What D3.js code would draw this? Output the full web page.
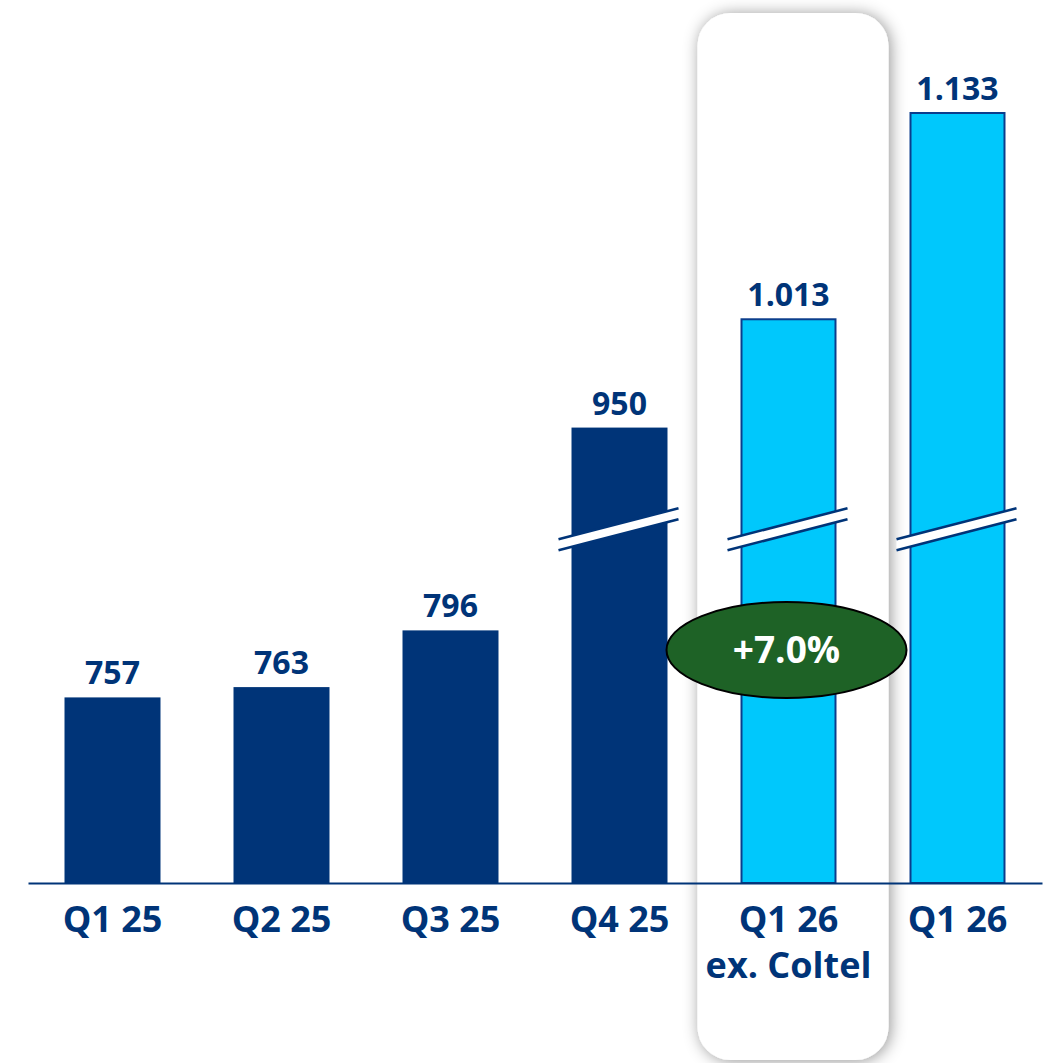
<!DOCTYPE html>
<html>
<head>
<meta charset="utf-8">
<script src="https://cdn.jsdelivr.net/npm/d3@7"></script>
<style>
  html, body { margin: 0; padding: 0; background: #ffffff; }
  svg { display: block; }
  text { font-family: "Open Sans", "DejaVu Sans", sans-serif; font-weight: 700; }
</style>
</head>
<body>
<svg id="chart" width="1057" height="1063"></svg>
<script>
// Quarterly values (thousands separator "." as in the source deck)
const categories = ["Q1 25", "Q2 25", "Q3 25", "Q4 25", "Q1 26\nex. Coltel", "Q1 26"];
const values = [757, 763, 796, 950, 1013, 1133];
const highlighted = [false, false, false, false, true, true];
const growthLabel = "+7.0%";

// Broken value axis: values between breakLow and breakHigh are cut out
const axisMin = 649;
const breakLow = 855;
const breakHigh = 891;
const axisMax = 1133;

const W = 1057, H = 1063;
const baseY = 883, breakY = 529, topY = 113;

const navy = "#003478";
const cyan = "#00c8fc";

const svg = d3.select("#chart");

const x = d3.scaleBand()
  .domain(categories)
  .range([28, 1042])
  .paddingInner(0.432)
  .paddingOuter(0.216);

const y = d3.scaleLinear()
  .domain([axisMin, breakLow, breakHigh, axisMax])
  .range([baseY, breakY, breakY, topY]);

const fmt = d3.formatLocale({ decimal: ",", thousands: ".", grouping: [3], currency: ["", "€"] }).format(",d");

// Soft shadow for the highlight panel
const defs = svg.append("defs");
const f = defs.append("filter").attr("id", "panelShadow")
  .attr("x", "-30%").attr("y", "-5%").attr("width", "160%").attr("height", "110%");
f.append("feDropShadow").attr("dx", 2).attr("dy", 1).attr("stdDeviation", 8)
  .attr("flood-color", "#000").attr("flood-opacity", 0.42);

// Highlight panel behind the "ex. Coltel" column
const hl = categories[4];
svg.append("rect")
  .attr("x", x(hl) - 43)
  .attr("y", 13)
  .attr("width", 191)
  .attr("height", 1047)
  .attr("rx", 33)
  .attr("fill", "#ffffff")
  .attr("filter", "url(#panelShadow)");

// Bars
const data = categories.map((c, i) => ({ c, v: values[i], hl: highlighted[i] }));

svg.append("g").selectAll("rect")
  .data(data)
  .join("rect")
  .attr("x", d => x(d.c) + (d.hl ? 1 : 0))
  .attr("y", d => y(d.v))
  .attr("width", d => x.bandwidth() - (d.hl ? 2 : 0))
  .attr("height", d => baseY - y(d.v))
  .attr("fill", d => d.hl ? cyan : navy)
  .attr("stroke", d => d.hl ? "#0b3d8c" : "none")
  .attr("stroke-width", 2);

// Value labels
svg.append("g").selectAll("text")
  .data(data)
  .join("text")
  .attr("x", d => x(d.c) + x.bandwidth() / 2)
  .attr("y", d => y(d.v) - 13)
  .attr("text-anchor", "middle")
  .attr("font-size", 32)
  .attr("fill", navy)
  .text(d => fmt(d.v));

// Axis-break marks on bars that cross the cut
const slope = 31 / 120;
const gap = 11;
const brk = svg.append("g");
data.filter(d => d.v > breakHigh).forEach(d => {
  const cx = x(d.c) + x.bandwidth() / 2;
  const cy = y(breakLow);
  const x0 = cx - 61, x1 = cx + 59;
  const y0 = cy + (cx - x0) * slope, y1 = cy - (x1 - cx) * slope;
  brk.append("path")
    .attr("d", `M${x0},${y0 - gap / 2}L${x1},${y1 - gap / 2}L${x1},${y1 + gap / 2}L${x0},${y0 + gap / 2}Z`)
    .attr("fill", "#ffffff");
  [-gap / 2, gap / 2].forEach(o => {
    brk.append("line")
      .attr("x1", x0).attr("y1", y0 + o)
      .attr("x2", x1).attr("y2", y1 + o)
      .attr("stroke", navy).attr("stroke-width", 2.5);
  });
});

// Category axis
const axis = svg.append("g")
  .attr("transform", `translate(0,${baseY})`)
  .call(d3.axisBottom(x).tickSize(0).tickSizeOuter(0).tickPadding(0));
axis.select(".domain").attr("stroke", navy).attr("stroke-width", 2);
axis.selectAll(".tick text").each(function (d) {
  const t = d3.select(this);
  t.text(null)
    .attr("y", 0)
    .attr("dy", null)
    .attr("font-size", 36)
    .attr("fill", navy)
    .attr("font-family", "\"Open Sans\", sans-serif")
    .attr("font-weight", 700);
  d.split("\n").forEach((line, i) => {
    t.append("tspan").attr("x", 0).attr("y", 49 + i * 46).text(line);
  });
});

// Growth badge
const bx = x(hl) + x.bandwidth() / 2 - 2;
const by = 650;
svg.append("ellipse")
  .attr("cx", bx).attr("cy", by)
  .attr("rx", 120).attr("ry", 48)
  .attr("fill", "#1e6226")
  .attr("stroke", "#000").attr("stroke-width", 2);
svg.append("text")
  .attr("x", bx).attr("y", by + 13)
  .attr("text-anchor", "middle")
  .attr("font-size", 37)
  .attr("fill", "#ffffff")
  .text(growthLabel);
</script>
</body>
</html>
